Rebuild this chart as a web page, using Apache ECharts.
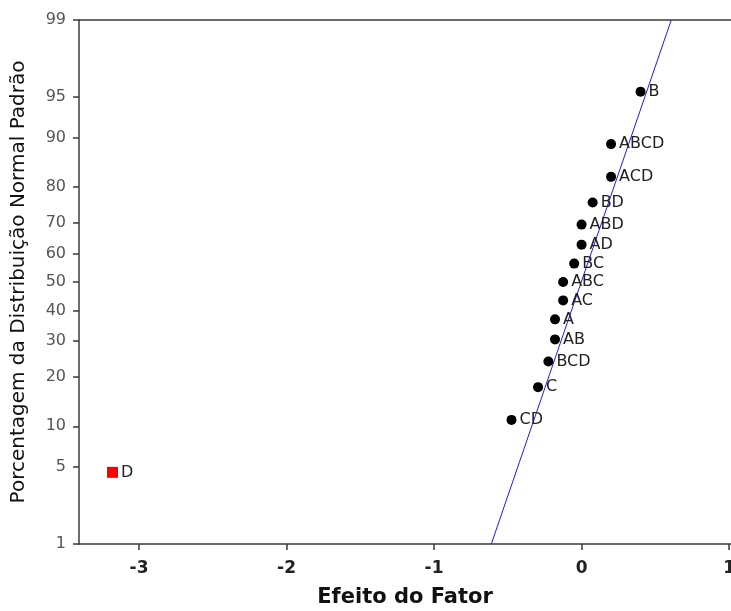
<!DOCTYPE html>
<html><head><meta charset="utf-8">
<script src="https://cdn.jsdelivr.net/npm/echarts@6/dist/echarts.min.js"></script>
<style>html,body{margin:0;padding:0;background:#fff}#c{width:731px;height:611px}</style>
</head><body><div id="c"></div><script>
// Data
const effectNames   = ['D','CD','C','BCD','AB','A','AC','ABC','BC','AD','ABD','BD','ACD','ABCD','B'];
const effectValues  = [-3.18,-0.475,-0.295,-0.225,-0.18,-0.18,-0.125,-0.125,-0.05,0.0,0.0,0.075,0.20,0.20,0.40];
const percentValues = [4.55,11.04,17.53,24.03,30.52,37.01,43.51,50,56.49,62.99,69.48,75.97,82.47,88.96,95.45];
const significantEffects = ['D'];
const lineEffect  = [-0.612, 0.608];
const linePercent = [1, 99];
const yTickLabels = [1,5,10,20,30,40,50,60,70,80,90,95,99];
const xTickLabels = [-3,-2,-1,0,1];

// Normal probability scale (inverse normal CDF, Acklam)
function probit(p){
  const a=[-3.969683028665376e+01,2.209460984245205e+02,-2.759285104469687e+02,1.383577518672690e+02,-3.066479806614716e+01,2.506628277459239e+00];
  const b=[-5.447609879822406e+01,1.615858368580409e+02,-1.556989798598866e+02,6.680131188771972e+01,-1.328068155288572e+01];
  const c=[-7.784894002430293e-03,-3.223964580411365e-01,-2.400758277161838e+00,-2.549732539343734e+00,4.374664141464968e+00,2.938163982698783e+00];
  const d=[7.784695709041462e-03,3.224671290700398e-01,2.445134137142996e+00,3.754408661907416e+00];
  const pl=0.02425, ph=1-pl; let q,r;
  if(p<pl){q=Math.sqrt(-2*Math.log(p));return (((((c[0]*q+c[1])*q+c[2])*q+c[3])*q+c[4])*q+c[5])/((((d[0]*q+d[1])*q+d[2])*q+d[3])*q+1);}
  if(p<=ph){q=p-0.5;r=q*q;return (((((a[0]*r+a[1])*r+a[2])*r+a[3])*r+a[4])*r+a[5])*q/(((((b[0]*r+b[1])*r+b[2])*r+b[3])*r+b[4])*r+1);}
  q=Math.sqrt(-2*Math.log(1-p));return -(((((c[0]*q+c[1])*q+c[2])*q+c[3])*q+c[4])*q+c[5])/((((d[0]*q+d[1])*q+d[2])*q+d[3])*q+1);
}
const z = v => probit(v/100);
const yTickZ = yTickLabels.map(z);

const normalPts = [], sigPts = [];
effectNames.forEach((n,i)=>{
  const item = {name:n, value:[effectValues[i], z(percentValues[i])]};
  (significantEffects.includes(n) ? sigPts : normalPts).push(item);
});

const axisCol = '#3a3a3a';
const FONT = 'DejaVu Sans';
const chart = echarts.init(document.getElementById('c'), null, {renderer:'canvas'});
const labelCfg = {show:true, position:'right', distance:3, formatter:p=>p.name, color:'#222', fontFamily:FONT, fontSize:16};
chart.setOption({
  animation:false,
  backgroundColor:'#fff',
  grid:{left:79, right:0, top:20, bottom:67, containLabel:false, outerBoundsMode:'none'},
  xAxis:[{
    type:'value', min:-3.407, max:1.013,
    name:'Efeito do Fator', nameLocation:'middle', nameGap:43,
    nameTextStyle:{fontFamily:FONT, fontSize:21, fontWeight:'bold', color:'#111'},
    axisLine:{show:true, onZero:false, lineStyle:{color:axisCol, width:1.5}},
    axisTick:{show:true, customValues:xTickLabels, length:6, lineStyle:{color:axisCol, width:1.5}},
    axisLabel:{customValues:xTickLabels, fontFamily:FONT, fontSize:17, fontWeight:'bold', color:'#222', margin:16,
      formatter:v=>String(Math.round(v))},
    splitLine:{show:false}
  },{
    type:'value', position:'top', min:-3.407, max:1.013,
    axisLine:{show:true, onZero:false, lineStyle:{color:axisCol, width:1.5}},
    axisTick:{show:false}, axisLabel:{show:false}, splitLine:{show:false}
  }],
  yAxis:{
    type:'value', min:z(1), max:z(99),
    name:'Porcentagem da Distribuição Normal Padrão', nameLocation:'middle', nameGap:50,
    nameTextStyle:{fontFamily:FONT, fontSize:20, color:'#111'},
    axisLine:{show:true, onZero:false, lineStyle:{color:axisCol, width:1.5}},
    axisTick:{show:true, customValues:yTickZ, length:6, lineStyle:{color:axisCol, width:1.5}},
    axisLabel:{customValues:yTickZ, fontFamily:FONT, fontSize:16, color:'#555', margin:13,
      formatter:v=>{let best=0,bd=1e9;yTickZ.forEach((t,i)=>{const d=Math.abs(t-v);if(d<bd){bd=d;best=i;}});return String(yTickLabels[best]);}},
    splitLine:{show:false}
  },
  series:[
    {type:'line', data:lineEffect.map((x,i)=>[x, z(linePercent[i])]), symbol:'none',
      lineStyle:{color:'#1a1aff', width:1}, silent:true, z:1},
    {type:'scatter', data:normalPts, symbol:'circle', symbolSize:10,
      itemStyle:{color:'#000', opacity:1}, label:labelCfg, z:3},
    {type:'scatter', data:sigPts, symbol:'rect', symbolSize:11,
      itemStyle:{color:'#ff0000', opacity:1}, label:labelCfg, z:3}
  ]
});
</script></body></html>
